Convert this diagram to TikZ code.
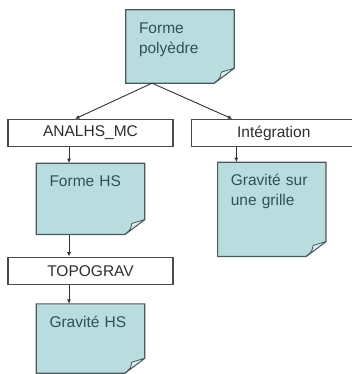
\documentclass[tikz,border=0pt]{standalone}
\usepackage{fontspec}
\setmainfont{Liberation Sans}
\usepackage{xcolor}
\usepackage{tikz}
\usetikzlibrary{arrows.meta,positioning,calc,backgrounds}
\definecolor{NoteFill}{HTML}{B9DCDF}
\definecolor{FlapFill}{HTML}{DDEEEF}
\definecolor{NoteLine}{HTML}{4A5A5C}
\definecolor{NoteText}{HTML}{32505A}
\definecolor{BoxLine}{HTML}{4A4A4A}
\definecolor{BoxText}{HTML}{2E2E2E}
\definecolor{ArrGray}{HTML}{333333}

% outline of a sheet with a curled corner, drawn behind the named node
\newcommand\foldnote[1]{%
  \begin{scope}[on background layer]
    \filldraw[fill=NoteFill,draw=NoteLine,line width=1.2pt]
      (#1.north west) -- (#1.north east) -- ([yshift=15pt]#1.south east)
      -- ([xshift=-20pt]#1.south east) -- (#1.south west) -- cycle;
    \filldraw[fill=FlapFill,draw=NoteLine,line width=.8pt,line join=round]
      ([yshift=15pt]#1.south east) .. controls ([xshift=-6pt,yshift=13pt]#1.south east)
      .. ([xshift=-13pt,yshift=11pt]#1.south east)
      .. controls ([xshift=-14pt,yshift=5pt]#1.south east) .. ([xshift=-20pt]#1.south east)
      -- cycle;
  \end{scope}}

\begin{document}
\begin{tikzpicture}[
  x=1pt,y=1pt,
  note/.style={text width=82pt,inner xsep=13pt,inner ysep=12.5pt,text height=11pt,align=left,
    font=\fontsize{15.5}{20}\selectfont,text=NoteText},
  prog/.style={draw=BoxLine,line width=1.3pt,fill=white,minimum width=165pt,minimum height=27pt,
    inner sep=0pt,font=\fontsize{15.5}{18}\selectfont,text=BoxText},
  arr/.style={-{Latex[length=4.5pt,width=4pt]},draw=ArrGray,line width=.9pt}
]
\useasboundingbox (0,0) rectangle (352,-374);
\node[note,text depth=37pt] (poly) at (180,-46.5) {Forme\\polyèdre};
\node[prog] (analhs) at (90.5,-133) {ANALHS\_MC};
\node[prog,right=17pt of analhs] (integ) {Intégration};
\node[note,below=16pt of analhs,text depth=35pt] (formhs) {Forme HS};
\node[prog,below=22pt of formhs] (topo) {TOPOGRAV};
\node[note,below=19pt of topo,text depth=33pt] (gravhs) {Gravité HS};
\node[note,below=15pt of integ,xshift=-2pt,text depth=58pt] (gravgr) {Gravité sur\\une grille};
\foldnote{poly}
\foldnote{formhs}
\foldnote{gravhs}
\foldnote{gravgr}
\coordinate (fork) at ([xshift=-28pt]poly.south);
\coordinate (lcol) at ([xshift=-21.5pt]formhs.north);
\coordinate (rcol) at ([xshift=-35.5pt]gravgr.north);
\draw[arr] (fork) -- ([xshift=-15.5pt]analhs.north);
\draw[arr] (fork) -- ([xshift=-41.5pt]integ.north);
\draw[arr] (analhs.south -| lcol) -- (formhs.north -| lcol);
\draw[arr] (formhs.south -| lcol) -- (topo.north -| lcol);
\draw[arr] (topo.south -| lcol) -- (gravhs.north -| lcol);
\draw[arr] (integ.south -| rcol) -- (rcol);
\end{tikzpicture}
\end{document}
